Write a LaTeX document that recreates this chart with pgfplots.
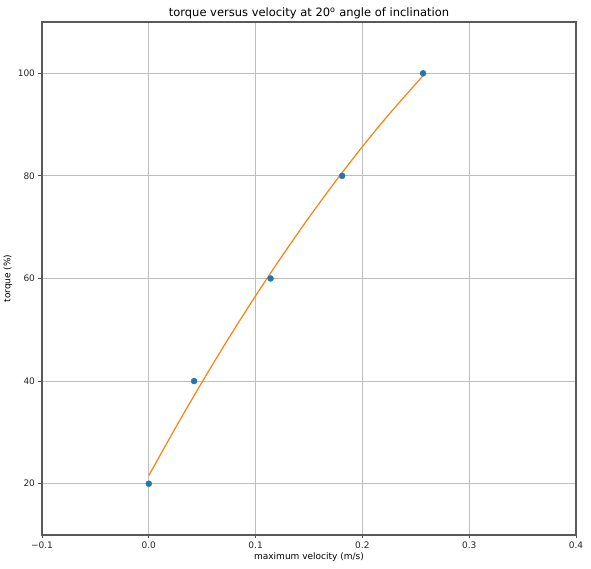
\documentclass[border=0pt]{standalone}
\usepackage{fontspec}
\setmainfont{DejaVu Sans}
\usepackage{pgfplots}
\pgfplotsset{compat=1.18}
\usetikzlibrary{calc}
\definecolor{cBlue}{HTML}{1F77B4}
\definecolor{cOrange}{HTML}{FF7F0E}
\definecolor{cGrid}{HTML}{BEBEBE}

\begin{document}
\begin{tikzpicture}
\begin{axis}[
  scale only axis,
  width=534pt, height=513pt,
  xmin=-0.1, xmax=0.4,
  ymin=10, ymax=110,
  xtick={-0.1,0,0.1,0.2,0.3,0.4},
  xticklabels={−0.1,0.0,0.1,0.2,0.3,0.4},
  ytick={20,40,60,80,100},
  xtick pos=bottom, ytick pos=left,
  /pgf/number format/assume math mode=true,
  tick label style={font=\fontsize{9}{10}\selectfont, text=black!85},
  tick align=outside,
  major tick length=3.5pt,
  tick style={black!70, line width=0.8pt},
  axis line style={black!65, line width=1.1pt},
  grid=major,
  major grid style={cGrid, line width=0.8pt},
  title={torque versus velocity at 20\textsuperscript{o} angle of inclination},
  title style={font=\fontsize{11.5}{13}\selectfont, at={(axis description cs:0.5,1)}, anchor=base, inner sep=0pt, yshift=-1pt},
  xlabel={maximum velocity (m/s)},
  ylabel={torque (\%)},
  label style={font=\fontsize{9}{10}\selectfont},
  xlabel style={at={(axis description cs:0.5,-0.043)}, anchor=center},
  ylabel style={at={(axis description cs:-0.064,0.5)}, anchor=center},
  clip=false,
]
% fitted curve
\addplot[cOrange, line width=1.2pt, smooth] coordinates {
  (0.000,21.58) (0.025,30.90) (0.050,39.85) (0.075,48.43) (0.100,56.62)
  (0.125,64.45) (0.150,71.91) (0.175,78.99) (0.200,85.70) (0.225,92.03)
  (0.2568,99.55)
};
% measured points
\addplot[only marks, mark=*, mark size=3pt, cBlue, mark options={fill=cBlue, draw=cBlue}] coordinates {
  (0.000,20) (0.0424,40) (0.114,60) (0.181,80) (0.2568,100)
};
\end{axis}
\useasboundingbox ($(current axis.south west)+(-42pt,-34pt)$) rectangle ($(current axis.north east)+(15pt,22pt)$);
\end{tikzpicture}
\end{document}
